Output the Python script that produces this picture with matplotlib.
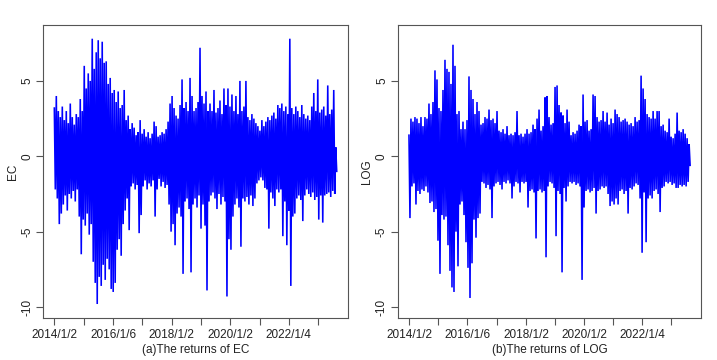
import numpy as np
import matplotlib
matplotlib.use("Agg")
import matplotlib.pyplot as plt

plt.rcParams['font.family'] = ['Liberation Sans', 'DejaVu Sans']

n_obs = 2350
year_ticks = [1, 246, 490, 734, 978, 1221, 1465, 1708, 1951, 2193]
year_labels = ["2014/1/2", "", "2016/1/6", "", "2018/1/2", "", "2020/1/2", "", "2022/1/4", ""]
y_ticks = [-10, -5, 0, 5]
y_limits = [-10, 8]

ec_peaks = [3.2, 4.0, 3.0, 2.6, 3.3, 2.4, 3.0, 2.2, 3.5, 2.6, 2.1, 2.8, 2.6, 3.8, 3.0, 6.0,
            4.5, 5.5, 5.0, 7.8, 5.8, 6.9, 7.7, 6.5, 7.6, 6.2, 6.3, 4.8, 5.2, 4.2, 4.4, 3.6,
            4.3, 3.2, 3.4, 4.4, 2.4, 2.7, 1.8, 2.2, 1.9, 1.4, 1.6, 2.4, 1.5, 1.8, 1.3, 1.6,
            1.2, 1.5, 2.3, 2.0, 1.3, 1.4, 1.6, 1.5, 1.8, 2.3, 3.5, 4.0, 3.2, 2.7, 2.5, 3.4,
            5.1, 3.2, 3.6, 3.0, 5.2, 4.0, 3.0, 3.2, 3.6, 7.2, 4.0, 3.5, 4.3, 3.0, 3.5, 3.0,
            4.4, 2.9, 3.2, 3.7, 2.8, 4.5, 3.4, 4.5, 3.3, 4.1, 3.0, 4.0, 2.8, 5.0, 3.0, 3.3,
            5.0, 2.6, 2.4, 2.8, 2.5, 2.2, 2.0, 1.7, 2.4, 2.0, 2.3, 2.6, 2.4, 2.7, 2.9, 2.5,
            3.4, 3.2, 3.5, 3.0, 3.3, 2.8, 7.8, 3.2, 2.8, 3.3, 3.0, 2.6, 3.4, 2.8, 2.5, 2.7,
            2.4, 3.3, 4.2, 3.0, 5.1, 2.9, 3.1, 3.3, 2.7, 4.7, 2.8, 3.1, 4.4, 0.6]
ec_troughs = [-2.2, -2.8, -4.5, -3.8, -3.2, -2.6, -3.6, -2.5, -2.8, -2.3, -3.0, -2.2, -4.0, -6.5, -4.2, -4.6,
              -3.8, -5.2, -4.5, -7.0, -8.4, -9.8, -8.0, -8.6, -7.2, -8.2, -6.8, -7.5, -8.8, -9.0, -8.4, -6.2,
              -5.5, -6.6, -4.5, -3.6, -2.8, -4.9, -2.0, -1.8, -2.2, -1.9, -5.1, -3.9, -2.0, -1.6, -2.2, -1.8,
              -2.0, -1.6, -4.0, -2.2, -1.5, -2.0, -1.7, -2.1, -1.9, -3.2, -5.0, -4.5, -5.9, -3.8, -3.4, -4.0,
              -7.8, -3.0, -2.8, -3.5, -7.7, -3.2, -2.8, -3.4, -2.6, -4.8, -3.2, -4.6, -8.9, -3.0, -2.6, -2.4,
              -2.8, -3.5, -2.5, -3.2, -2.7, -3.0, -9.3, -5.5, -6.2, -4.0, -3.2, -2.8, -3.4, -6.0, -2.8, -3.0,
              -2.7, -3.2, -2.6, -3.3, -2.8, -1.8, -1.6, -1.4, -1.6, -2.1, -2.2, -4.8, -2.4, -2.8, -3.3, -2.2,
              -2.4, -2.2, -5.3, -3.0, -5.9, -3.6, -8.6, -4.0, -3.8, -2.8, -2.6, -2.9, -4.3, -2.6, -2.2, -2.5,
              -2.7, -2.4, -2.9, -2.7, -4.2, -2.6, -4.4, -2.6, -2.5, -2.4, -2.7, -2.3, -2.5, -1.0]

log_peaks = [1.4, 2.5, 2.3, 2.6, 2.5, 2.2, 2.6, 2.0, 2.6, 2.5, 3.5, 2.8, 3.6, 5.7, 5.1, 3.2,
             3.0, 4.4, 6.4, 5.8, 5.6, 4.8, 7.4, 6.0, 2.8, 3.0, 1.8, 2.3, 1.8, 2.4, 5.3, 4.4,
             3.8, 2.8, 3.6, 3.0, 2.1, 2.2, 2.6, 2.5, 3.1, 2.4, 2.5, 2.2, 3.0, 1.7, 1.6, 1.8,
             1.5, 2.0, 1.4, 1.5, 1.4, 1.6, 3.0, 1.4, 1.5, 1.3, 1.5, 1.8, 1.5, 1.6, 2.1, 1.8,
             2.5, 3.1, 1.7, 2.0, 3.9, 4.0, 2.6, 2.1, 2.2, 4.6, 4.7, 3.4, 2.9, 2.7, 2.2, 3.1,
             2.3, 1.4, 1.6, 1.5, 1.7, 2.1, 2.0, 4.1, 2.3, 2.4, 1.7, 1.8, 4.1, 4.0, 2.6, 2.3,
             2.4, 3.0, 2.3, 2.9, 2.1, 2.5, 2.2, 3.1, 2.8, 2.6, 2.3, 2.4, 2.5, 2.3, 2.1, 2.2,
             2.0, 2.6, 2.3, 2.4, 5.35, 4.5, 3.8, 2.8, 2.6, 2.5, 3.0, 2.5, 3.0, 3.0, 2.0, 2.1,
             1.7, 1.6, 2.5, 1.3, 1.2, 1.5, 2.9, 1.7, 1.6, 1.8, 1.5, 1.2, 0.8]
log_troughs = [-4.1, -2.0, -1.8, -3.2, -2.3, -2.5, -2.2, -2.3, -2.0, -2.4, -3.1, -3.0, -3.7, -3.5, -5.6, -7.8,
               -3.9, -4.2, -4.0, -5.9, -7.6, -8.7, -9.0, -5.0, -7.3, -3.2, -3.0, -3.9, -5.7, -7.4, -9.4, -7.1,
               -4.2, -5.4, -4.1, -3.8, -1.7, -1.8, -2.1, -1.9, -2.2, -4.1, -2.0, -1.8, -1.7, -1.9, -2.2, -1.7,
               -1.8, -1.6, -1.8, -2.8, -2.0, -1.7, -1.8, -2.4, -1.7, -1.8, -1.7, -3.4, -2.3, -2.2, -2.4, -5.45,
               -2.3, -2.2, -2.4, -2.3, -6.7, -2.0, -1.7, -1.8, -2.1, -5.3, -2.3, -2.5, -7.7, -2.1, -3.0, -2.0,
               -1.7, -1.8, -1.7, -1.9, -1.8, -2.0, -8.2, -3.4, -2.3, -2.2, -2.4, -2.3, -2.1, -3.8, -2.3, -2.2,
               -2.0, -2.1, -2.0, -2.5, -3.3, -3.0, -3.2, -2.8, -3.2, -2.3, -2.2, -2.5, -2.3, -3.8, -2.1, -2.2,
               -2.0, -1.8, -1.9, -2.8, -6.4, -2.4, -5.7, -2.8, -2.6, -2.8, -2.3, -2.2, -2.5, -3.7, -2.1, -2.0,
               -1.7, -1.8, -1.7, -1.9, -1.8, -2.1, -2.1, -1.9, -2.0, -1.9, -2.0, -1.7, -0.6]


def series(peaks, troughs):
    k = min(len(peaks), len(troughs))
    return np.column_stack([peaks[:k], troughs[:k]]).ravel()


fig = plt.figure(figsize=(7.17, 3.60), dpi=100)
panels = [
    ([0.060, 0.117, 0.4254, 0.814], series(ec_peaks, ec_troughs), "EC", "(a)The returns of EC"),
    ([0.5547, 0.117, 0.4235, 0.814], series(log_peaks, log_troughs), "LOG", "(b)The returns of LOG"),
]

box_col = "#555555"
for rect, vals, ylab, xlab in panels:
    ax = fig.add_axes(rect)
    x = np.linspace(1, n_obs, len(vals))
    ax.plot(x, vals, color="#0000FF", lw=1.15, solid_joinstyle="miter")
    pad_x = 0.04 * (n_obs - 1)
    ax.set_xlim(1 - pad_x, n_obs + pad_x)
    pad_y = 0.04 * (y_limits[1] - y_limits[0])
    ax.set_ylim(y_limits[0] - pad_y, y_limits[1] + pad_y)
    ax.set_xticks(year_ticks)
    ax.set_xticklabels(year_labels)
    ax.set_yticks(y_ticks)
    ax.set_yticklabels([str(v) for v in y_ticks], rotation=90, va="center")
    ax.tick_params(axis="both", direction="out", length=5, width=0.8, color=box_col,
                   labelsize=8.5, labelcolor="#222222", pad=2)
    ax.tick_params(axis="x", pad=3)
    for sp in ax.spines.values():
        sp.set_color(box_col)
        sp.set_linewidth(0.8)
    ax.set_ylabel(ylab, fontsize=8.5, color="#222222", labelpad=2)
    ax.set_xlabel(xlab, fontsize=8.5, color="#222222", labelpad=2)

fig.savefig("out.png", dpi=100)
